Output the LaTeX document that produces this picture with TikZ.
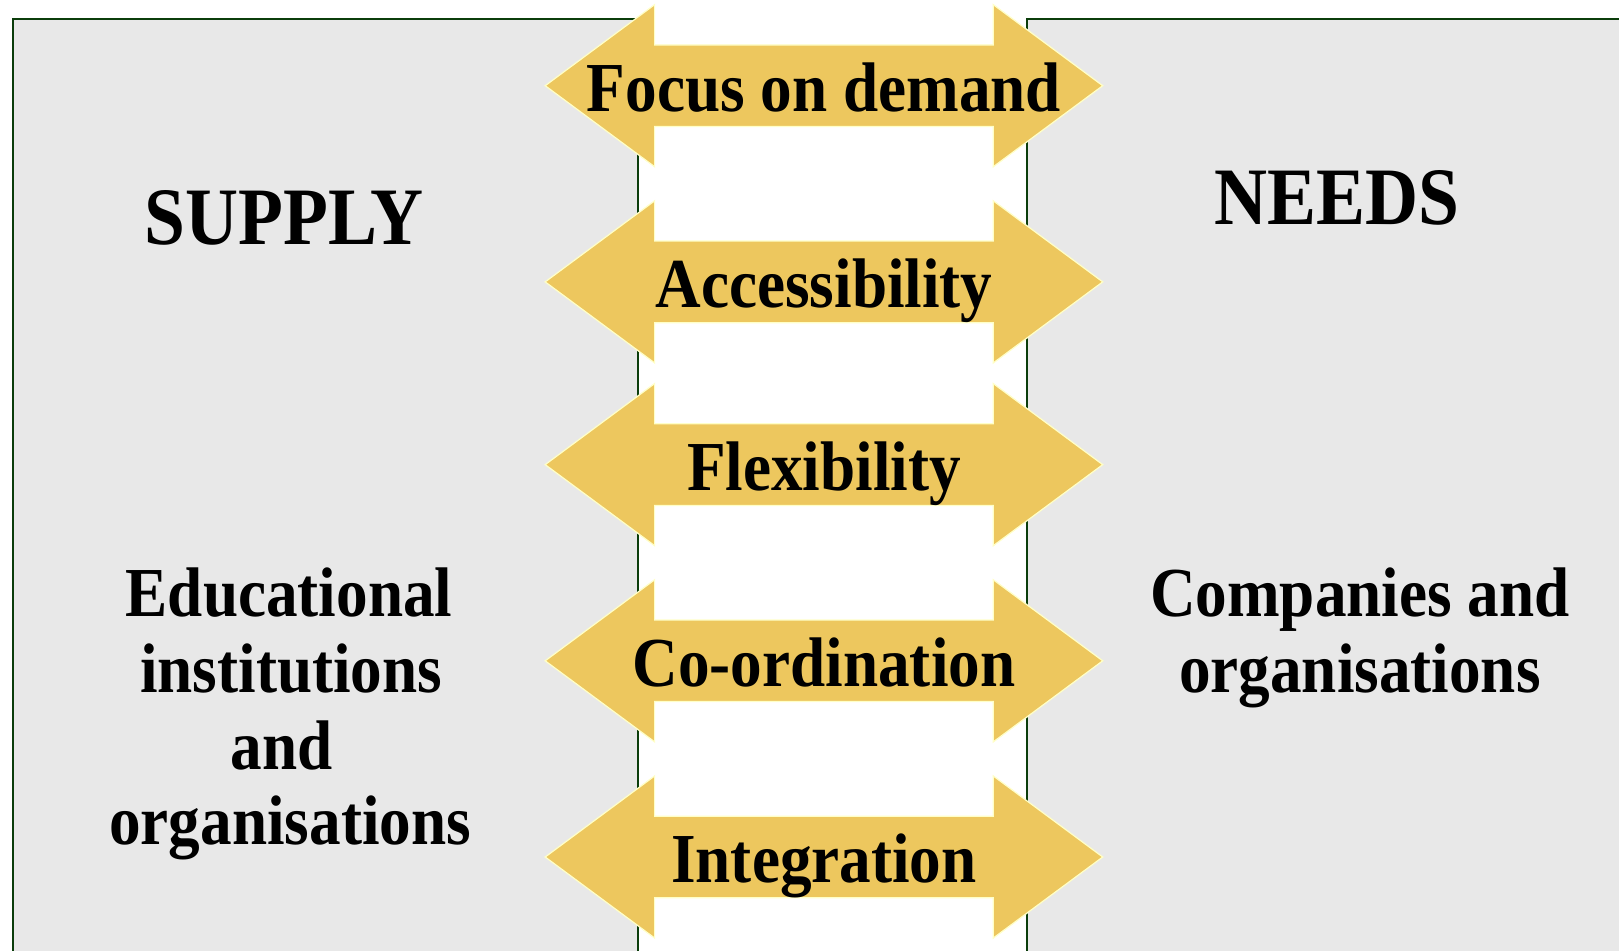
\documentclass[tikz,border=0pt]{standalone}
\usepackage{fontspec}
\setmainfont{Liberation Serif}[FakeStretch=0.9]
\definecolor{gold}{HTML}{EDC75E}
\definecolor{goldedge}{HTML}{FFFFC8}
\definecolor{boxgray}{HTML}{E8E8E8}
\definecolor{boxedge}{HTML}{0B3D0B}
\tikzset{
  sidebox/.style={fill=boxgray, draw=boxedge, line width=1.8pt},
  arrowshape/.style={fill=gold, draw=goldedge, line width=1.2pt, line join=miter},
  lbl/.style={font=\fontsize{68}{80}\selectfont\bfseries, anchor=base, inner sep=0pt},
  bigtitle/.style={font=\fontsize{79}{90}\selectfont\bfseries, anchor=base, inner sep=0pt},
}
\begin{document}
\begin{tikzpicture}[x=1pt,y=-1pt]
\useasboundingbox (0,0) rectangle (1568,921);
\clip (0,0) rectangle (1568,921);
\fill[white] (0,0) rectangle (1568,921);
\draw[sidebox] (13,18) rectangle (618,990);
\draw[sidebox] (995,18) rectangle (1620,990);
\node[bigtitle] (supply) at (275,237) {SUPPLY};
\node[bigtitle] (needs) at (1295,217) {NEEDS};
\node[lbl] (edu1) at (280,597) {Educational};
\node[lbl] (edu2) at (282,671) {institutions};
\node[lbl] (edu3) at (273,745) {and};
\node[lbl] (edu4) at (281,818) {organisations};
\node[lbl] (comp1) at (1317,597) {Companies and};
\node[lbl] (comp2) at (1317,671) {organisations};
\foreach \cy/\lab/\nm in {83/Focus on demand/a1, 273/Accessibility/a2, 450/Flexibility/a3, 640/Co-ordination/a4, 830/Integration/a5} {
  \draw[arrowshape] (528,\cy) -- (634,\cy-78.5) -- (634,\cy-39.5) -- (962,\cy-39.5) -- (962,\cy-78.5) -- (1068,\cy) -- (962,\cy+78.5) -- (962,\cy+39.5) -- (634,\cy+39.5) -- (634,\cy+78.5) -- cycle;
  \node[lbl] (\nm) at (798,\cy+25) {\lab};
}
\end{tikzpicture}
\end{document}
